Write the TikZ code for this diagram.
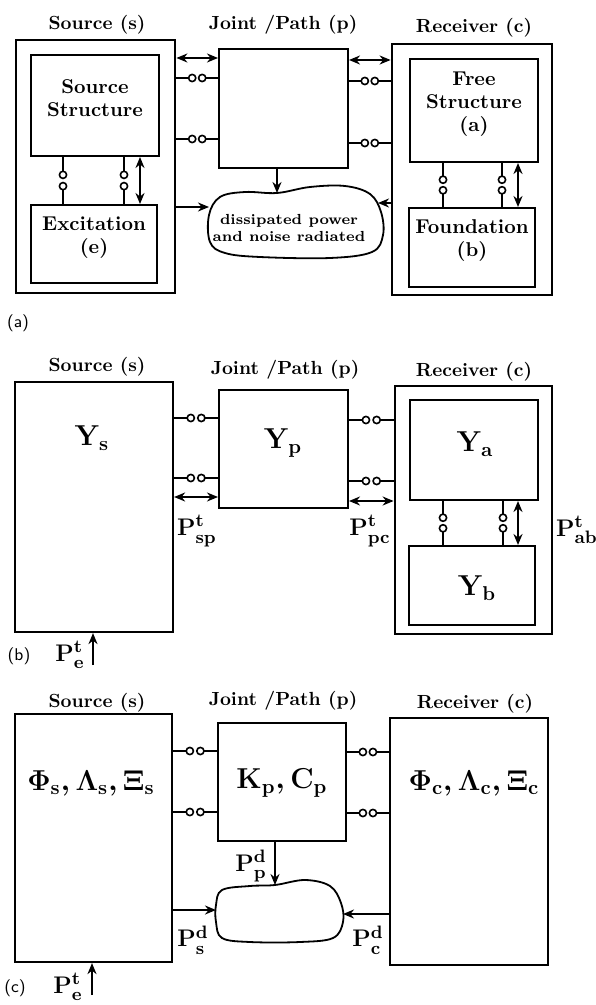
\documentclass[tikz,border=0pt]{standalone}
\usetikzlibrary{arrows.meta, calc, fit}

% port with two open terminals between two points
\newcommand{\portlink}[2]{%
  \draw[wire] (#1) -- ($(#1)!0.38!(#2)$);
  \draw[wire] (#2) -- ($(#1)!0.62!(#2)$);
  \draw[wire, fill=white] ($(#1)!0.38!(#2)$) circle[radius=1.8pt];
  \draw[wire, fill=white] ($(#1)!0.62!(#2)$) circle[radius=1.8pt];}

\begin{document}
\begin{tikzpicture}[x=0.5pt, y=-0.5pt,
    box/.style={draw, line width=1pt, inner sep=0pt, align=center, font=\bfseries\fontsize{10}{11.5}\selectfont},
    outer/.style={draw, line width=1.4pt, inner sep=0pt},
    headlbl/.style={font=\bfseries\fontsize{9.5}{11}\selectfont},
    mlbl/.style={font=\fontsize{14}{16}\selectfont\boldmath},
    plbl/.style={font=\fontsize{13}{15}\selectfont\boldmath, inner sep=1pt},
    tag/.style={font=\sffamily\fontsize{8.5}{10}\selectfont},
    wire/.style={line width=0.8pt},
    arrow/.style={-{Stealth[length=5.5pt, width=4.5pt]}, line width=1pt},
    twoway/.style={{Stealth[length=5.5pt, width=4.5pt]}-{Stealth[length=5.5pt, width=4.5pt]}, line width=1pt}
]
\useasboundingbox (0,0) rectangle (595,1005);

% ---------------- Panel (a) ----------------
\node[headlbl] (hsA) at (97,25) {Source (s)};
\node[headlbl] (hjA) at (283,25) {Joint /Path (p)};
\node[headlbl] (hrA) at (474,28) {Receiver (c)};

% Source
\node[outer, fit={(16,40) (175,293)}] (srcA) {};
\node[box, fit={(31,55) (159,156)}] (ssA) {Source\\Structure};
\node[box, fit={(31,205) (157,283)}] (excA) {Excitation\\(e)};

% Joint
\node[box, fit={(219,49) (348,168)}] (jA) {};

% Receiver
\node[outer, fit={(392,44) (552,295)}] (rcvA) {};
\node[box, fit={(410,59) (538,162)}] (fsA) {Free\\Structure\\(a)};
\node[box, fit={(409,208) (535,287)}] (fdA) {Foundation\\(b)};

% Dissipation
\draw[line width=0.9pt] plot[smooth cycle, tension=0.6] coordinates {(209,215) (220,197) (245,192) (277,193) (310,187) (345,186) (370,194) (381,212) (383,235) (372,252) (330,258) (260,257) (225,253) (210,242)};
\node[align=center, font=\bfseries\fontsize{7.3}{8.5}\selectfont] (dissA) at (289,228) {dissipated power\\and noise radiated};
\coordinate (blobAw) at (209,207);
\coordinate (blobAn) at (277,193);
\coordinate (blobAe) at (378,203);

% Arrows
\draw[twoway] (srcA.east |- 0,58) -- (jA.west |- 0,58);
\draw[twoway] (jA.east |- 0,60) -- (rcvA.west |- 0,60);
\portlink{srcA.east |- 0,78}{jA.west |- 0,78}
\portlink{srcA.east |- 0,139}{jA.west |- 0,139}
\portlink{jA.east |- 0,81}{rcvA.west |- 0,81}
\portlink{jA.east |- 0,143}{rcvA.west |- 0,143}
\portlink{ssA.south -| 63,0}{excA.north -| 63,0}
\portlink{ssA.south -| 124,0}{excA.north -| 124,0}
\draw[twoway] (ssA.south -| 140,0) -- (excA.north -| 140,0);
\portlink{fsA.south -| 443,0}{fdA.north -| 443,0}
\portlink{fsA.south -| 502,0}{fdA.north -| 502,0}
\draw[twoway] (fsA.south -| 518,0) -- (fdA.north -| 518,0);
\draw[arrow] (jA.south -| blobAn) -- (blobAn);
\draw[arrow] (srcA.east |- blobAw) -- (blobAw);
\draw[arrow] (rcvA.west |- blobAe) -- (blobAe);

\node[tag] (tagA) at (18,323) {(a)};

% ---------------- Panel (b) ----------------
\node[headlbl] (hsB) at (97,367) {Source (s)};
\node[headlbl] (hjB) at (285,370) {Joint /Path (p)};
\node[headlbl] (hrB) at (474,372) {Receiver (c)};

\node[outer, line width=1.1pt, fit={(15,382) (173,632)}] (srcB) {};
\node[mlbl] (ysB) at (92,438) {$\mathbf{Y}_{\mathbf{s}}$};

\node[box, fit={(219,390) (348,508)}] (jB) {};
\node[mlbl] (ypB) at (283,443) {$\mathbf{Y}_{\mathbf{p}}$};

\node[outer, fit={(395,386) (552,634)}] (rcvB) {};
\node[box, fit={(410,400) (538,500)}] (yaB) {};
\node[box, fit={(409,546) (535,625)}] (ybB) {};
\node[mlbl] (yaLbl) at (475,444) {$\mathbf{Y}_{\mathbf{a}}$};
\node[mlbl] (ybLbl) at (477,588) {$\mathbf{Y}_{\mathbf{b}}$};

% Arrows
\portlink{srcB.east |- 0,418}{jB.west |- 0,418}
\portlink{srcB.east |- 0,478}{jB.west |- 0,478}
\draw[twoway] (srcB.east |- 0,497) -- (jB.west |- 0,497);
\portlink{jB.east |- 0,420}{rcvB.west |- 0,420}
\portlink{jB.east |- 0,481}{rcvB.west |- 0,481}
\draw[twoway] (jB.east |- 0,501) -- (rcvB.west |- 0,501);
\portlink{yaB.south -| 443,0}{ybB.north -| 443,0}
\portlink{yaB.south -| 503,0}{ybB.north -| 503,0}
\draw[twoway] (yaB.south -| 518,0) -- (ybB.north -| 518,0);

\node[plbl] (pspB) at (197,531) {$\mathbf{P}^{\mathbf{t}}_{\mathbf{sp}}$};
\node[plbl] (ppcB) at (370,531) {$\mathbf{P}^{\mathbf{t}}_{\mathbf{pc}}$};
\node[plbl] (pabB) at (577,530) {$\mathbf{P}^{\mathbf{t}}_{\mathbf{ab}}$};

\coordinate (peBtail) at (93,665);
\draw[arrow] (peBtail) -- (srcB.south -| peBtail);
\node[plbl] (peB) at (70,655) {$\mathbf{P}^{\mathbf{t}}_{\mathbf{e}}$};
\node[tag] (tagB) at (19,656) {(b)};

% ---------------- Panel (c) ----------------
\node[headlbl] (hsC) at (97,703) {Source (s)};
\node[headlbl] (hjC) at (283,701) {Joint /Path (p)};
\node[headlbl] (hrC) at (475,704) {Receiver (c)};

\node[outer, line width=1.1pt, fit={(15,714) (172,962)}] (srcC) {};
\node[mlbl] (phisC) at (91,783) {$\mathbf{\Phi}_{\mathbf{s}},\mathbf{\Lambda}_{\mathbf{s}},\mathbf{\Xi}_{\mathbf{s}}$};

\node[box, line width=0.9pt, fit={(218,723) (346,841)}] (jC) {};
\node[mlbl] (kpC) at (282,783) {$\mathbf{K}_{\mathbf{p}},\mathbf{C}_{\mathbf{p}}$};

\node[outer, line width=1.1pt, fit={(390,718) (548,965)}] (rcvC) {};
\node[mlbl] (phicC) at (474,783) {$\mathbf{\Phi}_{\mathbf{c}},\mathbf{\Lambda}_{\mathbf{c}},\mathbf{\Xi}_{\mathbf{c}}$};

% Dissipation
\draw[line width=0.9pt] plot[smooth cycle, tension=0.6] coordinates {(216,905) (222,890) (250,886) (275,885) (305,880) (330,886) (341,903) (343,922) (333,938) (300,942) (250,942) (222,938) (216,922)};
\coordinate (blobCw) at (216,910);
\coordinate (blobCn) at (275,885);
\coordinate (blobCe) at (343,914);

% Arrows
\portlink{srcC.east |- 0,751}{jC.west |- 0,751}
\portlink{srcC.east |- 0,812}{jC.west |- 0,812}
\portlink{jC.east |- 0,752}{rcvC.west |- 0,752}
\portlink{jC.east |- 0,813}{rcvC.west |- 0,813}
\draw[arrow] (jC.south -| blobCn) -- (blobCn);
\draw[arrow] (srcC.east |- blobCw) -- (blobCw);
\draw[arrow] (rcvC.west |- blobCe) -- (blobCe);

\node[plbl] (pdpC) at (251,866) {$\mathbf{P}^{\mathbf{d}}_{\mathbf{p}}$};
\node[plbl] (pdsC) at (193,940) {$\mathbf{P}^{\mathbf{d}}_{\mathbf{s}}$};
\node[plbl] (pdcC) at (368,940) {$\mathbf{P}^{\mathbf{d}}_{\mathbf{c}}$};

\coordinate (peCtail) at (92,995);
\draw[arrow] (peCtail) -- (srcC.south -| peCtail);
\node[plbl] (peC) at (68,987) {$\mathbf{P}^{\mathbf{t}}_{\mathbf{e}}$};
\node[tag] (tagC) at (15,988) {(c)};

\end{tikzpicture}
\end{document}
